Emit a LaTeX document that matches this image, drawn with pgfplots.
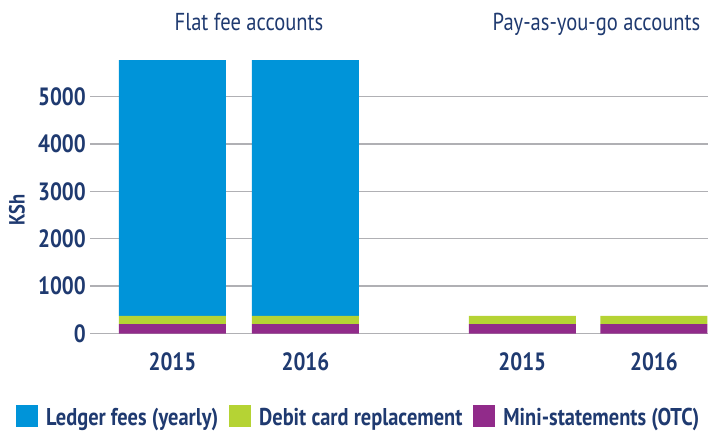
\documentclass[border=0pt]{standalone}
\usepackage{fontspec}
\setmainfont{PT Sans}[FakeStretch=0.84]
\usepackage{pgfplots}
\pgfplotsset{compat=1.18}
\definecolor{navy}{HTML}{1F3A70}
\definecolor{cblue}{HTML}{0094D9}
\definecolor{cgreen}{HTML}{B5D334}
\definecolor{cpurple}{HTML}{912B8A}
\definecolor{gridc}{HTML}{B0B0B4}
\begin{document}
\begin{tikzpicture}
\begin{axis}[
  scale only axis, width=618pt, height=284.4pt,
  xmin=-0.6203, xmax=4.0263, ymin=0, ymax=6000,
  ybar stacked, bar width=107pt,
  axis line style={draw=none},
  major tick length=0pt,
  ymajorgrids, grid style={gridc, line width=1.4pt},
  xtick={0,1,2.63,3.62}, xticklabels={2015,2016,2015,2016},
  ytick={0,1000,2000,3000,4000,5000},
  scaled y ticks=false,
  /pgf/number format/assume math mode=true,
  /pgf/number format/1000 sep={},
  yticklabel style={font=\bfseries\fontsize{25}{25}\selectfont, text=navy, inner sep=0pt, xshift=-4pt},
  xticklabel style={font=\bfseries\fontsize{25}{25}\selectfont, text=navy, inner sep=0pt, yshift=-19pt},
  clip=false,
  reverse legend, legend columns=3,
  legend style={draw=none, fill=none, inner sep=0pt, at={(axis cs:-1.1767,-1740)}, anchor=west,
    font=\bfseries\fontsize{24.3}{25}\selectfont, text=navy,
    nodes={inner sep=0pt}, column sep=8pt,
    /tikz/every even column/.append style={column sep=11pt}},
  legend image code/.code={\fill[#1] (0pt,-9pt) rectangle (22pt,13pt);},
]
\addplot[fill=cpurple, draw=none] coordinates {(0,200) (1,200) (2.63,200) (3.62,200)};
\addplot[fill=cgreen, draw=none] coordinates {(0,170) (1,170) (2.63,170) (3.62,170)};
\addplot[fill=cblue, draw=none] coordinates {(0,5400) (1,5400) (2.63,0) (3.62,0)};
\legend{Mini-statements (OTC), Debit card replacement, Ledger fees (yearly)}
\node[font=\fontsize{24.5}{25}\selectfont, text=navy, anchor=base] at (axis cs:0.575,6382) {Flat fee accounts};
\node[font=\fontsize{24.5}{25}\selectfont, text=navy, anchor=base] at (axis cs:3.188,6382) {Pay-as-you-go accounts};
\node[font=\bfseries\fontsize{22}{22}\selectfont, text=navy, rotate=90] at (axis cs:-1.169,2605) {KSh};
\coordinate (bl) at (axis cs:-1.297,-2099);
\coordinate (tr) at (axis cs:4.079,7036);
\end{axis}
\pgfresetboundingbox
\path[use as bounding box] (bl) rectangle (tr);
\end{tikzpicture}
\end{document}
